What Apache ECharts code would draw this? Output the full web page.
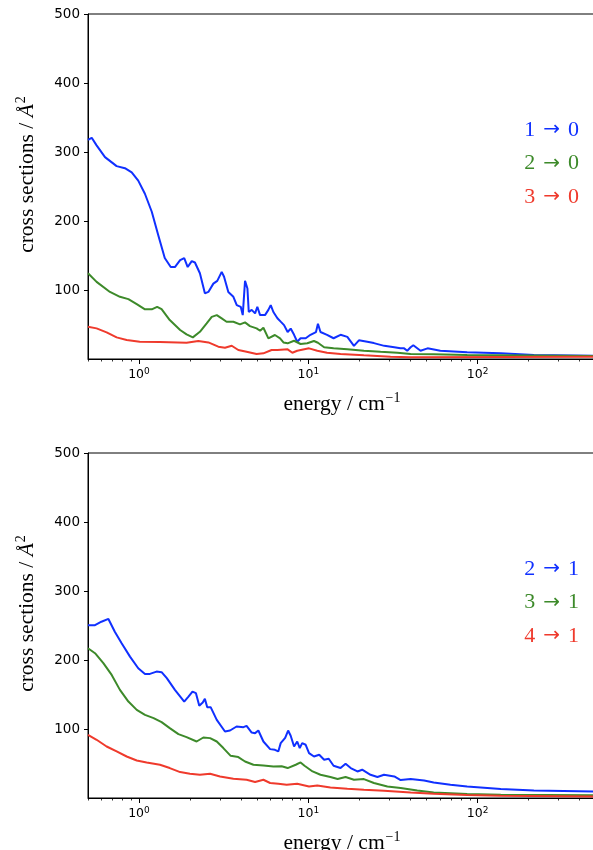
<!DOCTYPE html>
<html>
<head>
<meta charset="utf-8">
<script src="https://cdn.jsdelivr.net/npm/echarts@6/dist/echarts.min.js"></script>
<style>
html,body{margin:0;padding:0;background:#fff;}
#chart{width:593px;height:850px;}
</style>
</head>
<body>
<div id="chart"></div>
<script>
// ---- data: [energy (cm^-1), cross section (Å^2)] ----
const top_1to0 = [[0.5,318],[0.51,317],[0.526,321],[0.562,310],[0.63,293],[0.738,280],[0.826,277],[0.906,271],[0.99,259],[1.084,240],[1.19,214],[1.30,180],[1.42,147],[1.54,134],[1.63,134],[1.75,144],[1.85,147],[1.94,134],[2.05,142.5],[2.14,140.6],[2.29,125],[2.45,96],[2.57,98],[2.75,110],[2.90,114],[3.08,127],[3.18,120],[3.37,98],[3.61,91],[3.78,79],[3.99,76.5],[4.10,64.5],[4.23,114],[4.37,103],[4.45,69],[4.63,72],[4.85,67],[5.0,76.5],[5.19,64.5],[5.55,64.5],[5.81,72],[6.0,79],[6.22,69],[6.57,60],[6.87,55],[7.19,50],[7.55,40],[7.87,45],[8.24,36],[8.6,26],[9.0,31],[9.65,31],[10.3,36],[11.1,40],[11.4,52],[11.8,40],[12.9,36],[14.1,31],[15.5,36],[17.0,33],[18.6,20],[19.9,28],[22.3,26],[24.4,24],[28.1,20],[32.2,18],[35,16.4],[36.8,16.4],[38.4,13],[40.2,17.9],[41.7,21],[46,13],[50.6,16.4],[60.2,13],[86.7,10.7],[137,9.2],[215,6.8],[500,5.8]];
const top_2to0 = [[0.5,125],[0.562,112.6],[0.674,98],[0.772,91],[0.866,87.6],[0.97,80.4],[1.085,72.8],[1.19,72.8],[1.28,76.5],[1.36,73],[1.52,57.3],[1.75,43],[1.91,36.7],[2.08,32.3],[2.29,40.4],[2.51,52.5],[2.69,62],[2.88,64.5],[3.08,59.7],[3.29,54.9],[3.61,54.9],[3.95,51],[4.23,54],[4.52,48.6],[4.95,45.3],[5.19,41.9],[5.43,46.2],[5.81,30.9],[6.35,35.7],[6.81,30.9],[7.13,25],[7.55,23.7],[8.24,27.4],[9.0,22.7],[9.86,23.7],[10.8,27],[11.4,24.5],[12.4,17.9],[14.1,16.4],[17,15],[21.3,13],[26.7,11.5],[33.6,10.1],[40.2,8.2],[55,7.8],[86.7,6.8],[500,5.3]];
const top_3to0 = [[0.5,47.6],[0.562,45.3],[0.644,39.6],[0.738,32.3],[0.846,28.4],[1.01,26],[1.33,25.5],[1.91,24.5],[2.24,27],[2.57,25],[2.94,18.8],[3.22,17.3],[3.53,20.2],[3.86,14],[4.32,11.5],[4.95,8.2],[5.43,9.2],[6.07,14],[6.57,14],[7.55,15],[8.05,10.1],[8.6,13],[10.1,16.4],[11.3,13],[12.9,10.1],[15.5,8.2],[21.3,6.3],[30.6,4.3],[40.2,3.5],[500,4.3]];

const bot_2to1 = [[0.5,251],[0.55,251],[0.60,256],[0.66,260],[0.72,241.5],[0.79,224.8],[0.885,205.5],[0.99,188.7],[1.085,180.5],[1.16,180.5],[1.27,183.8],[1.36,183],[1.46,174.3],[1.63,157.4],[1.85,140.5],[1.96,147.7],[2.07,154.9],[2.17,152.6],[2.27,134.3],[2.38,139],[2.45,144.4],[2.53,132.4],[2.65,132.4],[2.88,114],[3.22,97.2],[3.45,98.6],[3.77,104.4],[4.14,103.5],[4.32,105.4],[4.63,95.7],[4.85,94.8],[5.07,98.6],[5.43,82.7],[5.95,71.7],[6.35,70.7],[6.65,68.3],[6.87,80.4],[7.05,80],[7.3,88],[7.6,98.6],[7.87,91],[8.24,75.5],[8.6,82.7],[8.9,73.2],[9.2,80.4],[9.65,78],[10.1,66],[10.8,61],[11.6,63.5],[12.4,56.3],[13.2,57.7],[14.1,47.6],[15.5,44.3],[16.6,50.5],[17.8,44.3],[19.5,39.4],[20.8,41.9],[23.3,34.6],[25.6,31.3],[28,34.6],[32.2,32.2],[35.1,27],[40.2,28.4],[48.3,26.4],[55,23.5],[69.1,20.2],[86.7,17.7],[137,14],[215,12],[500,10.5]];
const bot_3to1 = [[0.5,217.6],[0.55,210.4],[0.616,196],[0.69,179],[0.772,157.4],[0.866,140.5],[0.97,128.5],[1.085,121.3],[1.22,116.5],[1.36,110.7],[1.52,102.1],[1.71,93.4],[1.91,89.1],[2.19,82.7],[2.40,88.5],[2.63,87.6],[2.88,82.7],[3.15,73.2],[3.48,62],[3.86,60.2],[4.23,53.8],[4.74,49.1],[5.43,48],[6.22,46.6],[6.96,47],[7.55,44.3],[8.43,49.1],[9.0,52.4],[9.5,47.6],[10.6,39.4],[11.8,34.6],[13.5,31.3],[14.9,28.4],[16.6,31.3],[18.6,27.4],[21.3,28.4],[24.4,22.7],[29.3,17.7],[35.1,15.4],[44,12],[55,9.1],[86.7,6.8],[137,5.8],[500,4.8]];
const bot_4to1 = [[0.5,92.4],[0.562,85.2],[0.644,75.5],[0.738,68.3],[0.846,61],[0.97,55.3],[1.11,52.4],[1.33,49.1],[1.52,44.3],[1.75,38.5],[2.0,36.1],[2.29,34.6],[2.63,36.1],[3.01,32.2],[3.61,28.9],[4.32,27.4],[4.85,24.1],[5.43,27.4],[5.95,22.7],[6.65,21.6],[7.45,20.2],[8.6,21.6],[10.1,17.7],[11.3,19.2],[13.5,16.3],[17,14.4],[21.3,13],[28,11.5],[40.2,9.1],[55,7.2],[86.7,5.3],[137,4.3],[500,3.3]];

const xMajorTicks = [1, 10, 100];
const xMajorExps = ['0', '1', '2'];
const xMinorTicks = [0.5,0.6,0.7,0.8,0.9,2,3,4,5,6,7,8,9,20,30,40,50,60,70,80,90,200,300,400,500];
const yTicks = [100, 200, 300, 400, 500];
const namesTop = ['1 \u2192 0', '2 \u2192 0', '3 \u2192 0'];
const namesBot = ['2 \u2192 1', '3 \u2192 1', '4 \u2192 1'];
const colors = ['#1030ff', '#3d8a2a', '#ef3a2c'];

// ---- chart ----
const chart = echarts.init(document.getElementById('chart'), null, {renderer: 'canvas'});
const sansFont = 'DejaVu Sans';
const serifFont = 'Liberation Serif';

function grid(top) {
  return {left: 88, top: top, width: 508, height: 345, show: true,
          borderColor: '#000', borderWidth: 1, backgroundColor: 'transparent',
          containLabel: false, outerBoundsMode: 'none'};
}
function xMajor(gi) {
  return {
    type: 'log', logBase: 10, gridIndex: gi, min: 0.5, max: 500, position: 'bottom',
    name: '{a|energy / cm}{b|\u22121}', nameLocation: 'middle', nameGap: 32,
    nameTextStyle: {rich: {
      a: {fontFamily: serifFont, fontSize: 21.5, color: '#000'},
      b: {fontFamily: serifFont, fontSize: 14, color: '#000', padding: [0,0,12,1]}
    }},
    axisLine: {show: true, lineStyle: {color: '#000', width: 1}},
    axisTick: {show: true, inside: false, length: 5, lineStyle: {color: '#000', width: 1}, customValues: xMajorTicks},
    axisLabel: {show: true, color: '#000', fontFamily: sansFont, fontSize: 12.5, margin: 8,
      customValues: xMajorTicks,
      formatter: function (v) { const i = xMajorTicks.indexOf(Math.round(v)); return i >= 0 ? '{m|10}{s|' + xMajorExps[i] + '}' : ''; },
      rich: {
        m: {fontFamily: sansFont, fontSize: 12.5, color: '#000'},
        s: {fontFamily: sansFont, fontSize: 9, color: '#000', padding: [0,0,7,0]}
      }},
    splitLine: {show: false}, minorTick: {show: false}, minorSplitLine: {show: false}
  };
}
function xMinor(gi) {
  return {
    type: 'log', logBase: 10, gridIndex: gi, min: 0.5, max: 500, position: 'bottom',
    axisLine: {show: false},
    axisTick: {show: true, inside: false, length: 2.5, lineStyle: {color: '#000', width: 0.8}, customValues: xMinorTicks},
    axisLabel: {show: false},
    splitLine: {show: false}
  };
}
function yAx(gi) {
  return {
    type: 'value', gridIndex: gi, min: 1, max: 500,
    name: '{a|cross sections / }{i|\u00C5}{b|2}', nameLocation: 'middle', nameGap: 48, nameRotate: 90,
    nameTextStyle: {rich: {
      a: {fontFamily: serifFont, fontSize: 21.5, color: '#000', padding: [0,0,0,24]},
      i: {fontFamily: serifFont, fontSize: 21.5, fontStyle: 'italic', color: '#000'},
      b: {fontFamily: serifFont, fontSize: 14, color: '#000', padding: [0,0,12,1]}
    }},
    axisLine: {show: true, lineStyle: {color: '#000', width: 1}},
    axisTick: {show: true, inside: false, length: 4, lineStyle: {color: '#000', width: 1}, customValues: yTicks},
    axisLabel: {show: true, color: '#000', fontFamily: sansFont, fontSize: 13.5, margin: 8, customValues: yTicks},
    splitLine: {show: false}
  };
}
function line(name, data, color, gi) {
  return {type: 'line', name: name, data: data, xAxisIndex: gi * 2, yAxisIndex: gi,
    showSymbol: false, symbol: 'none', smooth: false, clip: true,
    lineStyle: {color: color, width: 2}, itemStyle: {color: color}};
}
function legend(top, names) {
  return {top: top, right: 14, orient: 'vertical', icon: 'none', itemWidth: 0, itemHeight: 22,
    itemGap: 11.5, selectedMode: false, padding: 0,
    formatter: function (n) { const p = n.split(' \u2192 '); return '{n|' + p[0] + '}{a|\u2192}{n|' + p[1] + '}'; },
    data: names.map((n, i) => ({name: n, textStyle: {color: colors[i], rich: {
      n: {fontFamily: serifFont, fontSize: 22, color: colors[i]},
      a: {fontFamily: sansFont, fontSize: 20, color: colors[i], padding: [0,8,0,8]}
    }}})),
    textStyle: {fontFamily: serifFont, fontSize: 22, lineHeight: 22, padding: 0}};
}

chart.setOption({
  animation: false,
  backgroundColor: '#fff',
  grid: [grid(14), grid(453)],
  xAxis: [xMajor(0), xMinor(0), xMajor(1), xMinor(1)],
  yAxis: [yAx(0), yAx(1)],
  legend: [legend(119, namesTop), legend(558, namesBot)],
  series: [
    line(namesTop[0], top_1to0, colors[0], 0),
    line(namesTop[1], top_2to0, colors[1], 0),
    line(namesTop[2], top_3to0, colors[2], 0),
    line(namesBot[0], bot_2to1, colors[0], 1),
    line(namesBot[1], bot_3to1, colors[1], 1),
    line(namesBot[2], bot_4to1, colors[2], 1)
  ]
});
</script>
</body>
</html>
